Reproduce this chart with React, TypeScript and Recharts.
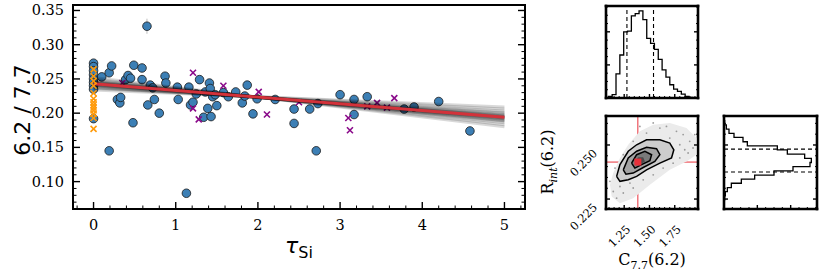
import React from 'react'
import { ComposedChart, Scatter, XAxis, YAxis, ErrorBar, ReferenceLine } from 'recharts'

const SERIF = '"DejaVu Serif", serif'
const SANS = '"DejaVu Sans", sans-serif'

// ---------- main panel: 6.2/7.7 against tau_Si ----------
// [tau_Si, ratio, error]
const pahPoints: [number, number, number][] = [
    [0, 0.273, 0.004], [0, 0.268, 0.004], [0, 0.262, 0.004], [0, 0.256, 0.004],
    [0, 0.25, 0.004], [0, 0.245, 0.004], [0, 0.24, 0.004], [0, 0.235, 0.004],
    [0, 0.192, 0.004], [0.1, 0.253, 0.004], [0.19, 0.259, 0.004], [0.22, 0.269, 0.004],
    [0.19, 0.145, 0.005], [0.29, 0.22, 0.004], [0.32, 0.215, 0.004], [0.33, 0.223, 0.004],
    [0.39, 0.249, 0.004], [0.42, 0.255, 0.004], [0.45, 0.251, 0.004], [0.48, 0.186, 0.004],
    [0.49, 0.27, 0.004], [0.59, 0.266, 0.004], [0.59, 0.249, 0.004], [0.65, 0.327, 0.011],
    [0.66, 0.212, 0.004], [0.69, 0.241, 0.004], [0.72, 0.237, 0.004], [0.74, 0.22, 0.004],
    [0.8, 0.2, 0.004], [0.87, 0.254, 0.004], [0.88, 0.244, 0.004], [1.02, 0.238, 0.004],
    [1.03, 0.22, 0.004], [1.13, 0.083, 0.004], [1.16, 0.238, 0.004], [1.18, 0.212, 0.004],
    [1.21, 0.216, 0.004], [1.25, 0.228, 0.004], [1.29, 0.249, 0.004], [1.34, 0.194, 0.004],
    [1.36, 0.231, 0.004], [1.39, 0.207, 0.004], [1.41, 0.244, 0.004], [1.42, 0.236, 0.004],
    [1.43, 0.195, 0.004], [1.45, 0.224, 0.004], [1.48, 0.227, 0.004], [1.5, 0.211, 0.004],
    [1.58, 0.23, 0.004], [1.64, 0.224, 0.004], [1.73, 0.231, 0.004], [1.81, 0.215, 0.004],
    [1.84, 0.225, 0.004], [1.87, 0.241, 0.004], [1.94, 0.199, 0.004], [1.99, 0.221, 0.004],
    [2.21, 0.22, 0.004], [2.44, 0.206, 0.004], [2.44, 0.185, 0.004], [2.63, 0.206, 0.004],
    [2.71, 0.145, 0.004], [2.73, 0.214, 0.004], [3.0, 0.227, 0.004], [3.17, 0.22, 0.004],
    [3.17, 0.198, 0.004], [3.33, 0.224, 0.004], [3.78, 0.206, 0.004], [3.9, 0.209, 0.004],
    [4.2, 0.217, 0.004], [4.58, 0.174, 0.004],
]
// orange crosses, all at tau_Si = 0
const noSilicateRatios = [0.264, 0.254, 0.247, 0.24, 0.229, 0.221, 0.216, 0.212, 0.208, 0.204, 0.199, 0.193, 0.177]
const purplePoints: [number, number][] = [
    [0.35, 0.244], [1.21, 0.259], [1.21, 0.207], [1.28, 0.191], [1.58, 0.24], [2.01, 0.231],
    [2.11, 0.198], [2.5, 0.216], [3.1, 0.193], [3.12, 0.175], [3.33, 0.21], [3.45, 0.215],
    [3.57, 0.208], [3.66, 0.222],
]
// posterior draws: value at tau = 0 and tau = 5
const drawStart = [0.252, 0.25, 0.248, 0.247, 0.246, 0.245, 0.245, 0.244, 0.244, 0.243, 0.243, 0.242, 0.242, 0.241, 0.241, 0.24, 0.239, 0.238, 0.237, 0.236, 0.234]
const drawEnd = [0.18, 0.183, 0.186, 0.188, 0.189, 0.19, 0.192, 0.191, 0.193, 0.193, 0.195, 0.194, 0.196, 0.196, 0.198, 0.197, 0.2, 0.201, 0.203, 0.206, 0.209]
const fitTau = [0, 5]
const fitRatio = [0.243, 0.194]

const tauMajor = [0, 1, 2, 3, 4, 5]
const ratioMajor = [0.1, 0.15, 0.2, 0.25, 0.3, 0.35]

// ---------- corner panels ----------
const cMajor = [1.25, 1.5, 1.75]
const rMajor = [0.225, 0.25]
const countMajor = [100, 200]
const cBest = 1.385
const rBest = 0.2421
const cQuantiles = [1.277, 1.54]
const rQuantiles = [0.2375, 0.2481]

const cHistStart = 1.093
const cHistWidth = 0.038
const cHistCounts = [5, 10, 73, 130, 200, 202, 248, 255, 263, 237, 180, 165, 147, 117, 85, 63, 40, 27, 20, 12, 5, 2]

const rHistEdges = [0.2612, 0.2593, 0.2573, 0.2554, 0.2535, 0.2515, 0.2496, 0.2477, 0.2458, 0.2438, 0.2419, 0.24, 0.238, 0.2361, 0.2342, 0.2323, 0.2303, 0.2284, 0.2265, 0.2246, 0.2226]
const rHistCounts = [2, 7, 15, 30, 57, 70, 160, 190, 242, 262, 258, 207, 150, 92, 52, 22, 10, 4, 2, 1]

const cloudOutline: [number, number][] = [
    [1.109, 0.2316], [1.142, 0.237], [1.208, 0.244], [1.29, 0.2501], [1.405, 0.2563], [1.537, 0.2594],
    [1.701, 0.2602], [1.866, 0.2578], [1.964, 0.2532], [1.964, 0.2455], [1.866, 0.2424], [1.701, 0.2385],
    [1.504, 0.2316], [1.339, 0.2254], [1.208, 0.2231], [1.126, 0.2262],
]
const cloudDots: [number, number][] = [
    [1.603, 0.2578], [1.668, 0.2586], [1.767, 0.2563], [1.833, 0.2548], [1.898, 0.2517], [1.931, 0.2486],
    [1.882, 0.2463], [1.8, 0.244], [1.734, 0.2416], [1.635, 0.2393], [1.537, 0.2362], [1.438, 0.2339],
    [1.339, 0.2301], [1.241, 0.2278], [1.175, 0.2254], [1.142, 0.2285], [1.109, 0.2332], [1.159, 0.2393],
    [1.241, 0.2455], [1.339, 0.2517], [1.471, 0.2555], [1.701, 0.2532], [1.8, 0.2501], [1.849, 0.2478],
    [1.405, 0.2378], [1.307, 0.2324], [1.208, 0.2308], [1.948, 0.2548], [1.537, 0.2602], [1.405, 0.2586],
]
const contourOuter: [number, number][] = [
    [1.175, 0.2355], [1.208, 0.2409], [1.29, 0.2471], [1.373, 0.2501], [1.471, 0.2524], [1.603, 0.2524],
    [1.701, 0.2509], [1.741, 0.2478], [1.718, 0.244], [1.603, 0.2416], [1.471, 0.2385], [1.373, 0.2355],
    [1.29, 0.2339], [1.208, 0.2332], [1.175, 0.2355],
]
const contourMid: [number, number][] = [
    [1.241, 0.2385], [1.29, 0.244], [1.373, 0.2471], [1.471, 0.2489], [1.57, 0.2483], [1.603, 0.2455],
    [1.553, 0.2424], [1.438, 0.2396], [1.339, 0.237], [1.267, 0.2365], [1.241, 0.2385],
]
const contourInner: [number, number][] = [
    [1.323, 0.2416], [1.373, 0.2455], [1.455, 0.2471], [1.521, 0.2455], [1.504, 0.2427], [1.422, 0.2409],
    [1.356, 0.2393], [1.323, 0.2416],
]
const contourCore: [number, number][] = [
    [1.356, 0.2424], [1.389, 0.2443], [1.438, 0.2443], [1.455, 0.2424], [1.405, 0.2409], [1.356, 0.2424],
]

const steps = (a: number, b: number, s: number) => {
    const out: number[] = []
    for (let v = a; v <= b + 1e-9; v += s) out.push(Math.round(v * 10000) / 10000)
    return out
}

const tauTicks = steps(-0.2, 5.2, 0.2)
const ratioTicks = steps(0.07, 0.35, 0.01)
const cTicks = steps(1.1, 1.95, 0.05)
const rTicks = steps(0.225, 0.26, 0.005)
const countTicks = steps(25, 275, 25)

const toXY = (pts: [number, number][]) => pts.map(([x, y]) => ({ x, y }))

type Side = 'bottom' | 'top' | 'left' | 'right'

function makeTick(side: Side, majors: number[], majorLen: number, minorLen: number, label?: (x: number, y: number, v: number) => React.ReactNode) {
    return (props: any) => {
        const { x, y, payload } = props
        const v = payload.value
        const isMajor = majors.some((m) => Math.abs(m - v) < 1e-6)
        const len = isMajor ? majorLen : minorLen
        const dx = side === 'left' ? len : side === 'right' ? -len : 0
        const dy = side === 'bottom' ? -len : side === 'top' ? len : 0
        return (
            <g>
                <line x1={x} y1={y} x2={x + dx} y2={y + dy} stroke="#000" strokeWidth={isMajor ? 1.4 : 1} />
                {isMajor && label ? label(x, y, v) : null}
            </g>
        )
    }
}

const noShape = () => <g />
const circleShape = (p: any) => <circle cx={p.cx} cy={p.cy} r={4.3} fill="#3c7fb5" stroke="#1a1a1a" strokeWidth={0.8} />
const crossShape = (color: string) => (p: any) => (
    <g stroke={color} strokeWidth={1.6}>
        <line x1={p.cx - 3} y1={p.cy - 3} x2={p.cx + 3} y2={p.cy + 3} />
        <line x1={p.cx - 3} y1={p.cy + 3} x2={p.cx + 3} y2={p.cy - 3} />
    </g>
)
const squareShape = (p: any) => <rect x={p.cx - 3.5} y={p.cy - 3.5} width={7} height={7} fill="#e8303a" />

const mainSpine = { stroke: '#000', strokeWidth: 2, strokeLinecap: 'square' as const }
const cornerSpine = { stroke: '#000', strokeWidth: 2.6, strokeLinecap: 'square' as const }
const axisCommon = { type: 'number' as const, interval: 0 as const, tickSize: 0, tickMargin: 0, tickLine: false, allowDataOverflow: true }

function MainPanel() {
    return (
        <ComposedChart width={540} height={277} margin={{ top: 4, right: 14, bottom: 0, left: 0 }}>
            <XAxis {...axisCommon} xAxisId="top" orientation="top" height={1} domain={[-0.25, 5.25]} ticks={tauTicks} axisLine={mainSpine} tick={makeTick('top', tauMajor, 7, 3.5)} />
            <XAxis
                {...axisCommon}
                dataKey="x"
                height={68}
                domain={[-0.25, 5.25]}
                ticks={tauTicks}
                axisLine={mainSpine}
                tick={makeTick('bottom', tauMajor, 7, 3.5, (x, y, v) => (
                    <text x={x} y={y + 21} textAnchor="middle" fontSize={14.5} fontFamily={SERIF} fill="#000">{v}</text>
                ))}
                label={{
                    value: 'tau',
                    content: () => (
                        <text x={285} y={253} fontFamily={SANS} fill="#000">
                            <tspan fontSize={22} fontStyle="italic">τ</tspan>
                            <tspan fontSize={16} dy={5}>Si</tspan>
                        </text>
                    ),
                }}
            />
            <YAxis
                {...axisCommon}
                dataKey="y"
                width={73}
                domain={[0.06, 0.358]}
                ticks={ratioTicks}
                axisLine={mainSpine}
                tick={makeTick('left', ratioMajor, 7, 3.5, (x, y, v) => (
                    <text x={x - 9} y={y + 5} textAnchor="end" fontSize={14.5} fontFamily={SERIF} fill="#000">{v.toFixed(2)}</text>
                ))}
                label={{
                    value: 'ratio',
                    content: () => (
                        <text transform="translate(30,110) rotate(-90)" textAnchor="middle" fontSize={22} fontFamily={SANS} fill="#000">6.2 / 7.7</text>
                    ),
                }}
            />
            <YAxis {...axisCommon} yAxisId="right" orientation="right" width={1} domain={[0.06, 0.358]} ticks={ratioTicks} axisLine={mainSpine} tick={makeTick('right', ratioMajor, 7, 3.5)} />

            <Scatter data={pahPoints.map(([x, y, e]) => ({ x, y, e }))} shape={circleShape} isAnimationActive={false}>
                <ErrorBar dataKey="e" direction="y" width={0} stroke="#bdbdbd" strokeWidth={1} />
            </Scatter>
            <Scatter data={toXY(purplePoints)} shape={crossShape('#8a0a8a')} isAnimationActive={false} />
            {drawStart.map((s, i) => (
                <Scatter
                    key={`draw-${i}`}
                    data={[{ x: fitTau[0], y: s }, { x: fitTau[1], y: drawEnd[i] }]}
                    shape={noShape}
                    line={{ stroke: '#000', strokeWidth: 3, strokeOpacity: 0.15 }}
                    isAnimationActive={false}
                />
            ))}
            <Scatter
                data={fitTau.map((x, i) => ({ x, y: fitRatio[i] }))}
                shape={noShape}
                line={{ stroke: '#d3323a', strokeWidth: 3 }}
                isAnimationActive={false}
            />
            <Scatter data={noSilicateRatios.map((y) => ({ x: 0, y }))} shape={crossShape('#ff9a0a')} isAnimationActive={false} />
        </ComposedChart>
    )
}

function TopHist() {
    const pts: { x: number; y: number }[] = []
    cHistCounts.forEach((c, i) => {
        const lo = cHistStart + i * cHistWidth
        if (i === 0) pts.push({ x: lo, y: 0 })
        pts.push({ x: lo, y: c }, { x: lo + cHistWidth, y: c })
        if (i === cHistCounts.length - 1) pts.push({ x: lo + cHistWidth, y: 0 })
    })
    return (
        <ComposedChart width={112} height={108} margin={{ top: 5, right: 9, bottom: 9, left: 9 }}>
            <XAxis {...axisCommon} xAxisId="top" orientation="top" height={1} domain={[1.07, 1.98]} ticks={cTicks} axisLine={cornerSpine} tick={makeTick('top', cMajor, 4, 2)} />
            <XAxis {...axisCommon} dataKey="x" height={1} domain={[1.07, 1.98]} ticks={cTicks} axisLine={cornerSpine} tick={makeTick('bottom', cMajor, 4, 2)} />
            <YAxis {...axisCommon} dataKey="y" width={1} domain={[0, 278]} ticks={countTicks} axisLine={cornerSpine} tick={makeTick('left', countMajor, 4, 2)} />
            <YAxis {...axisCommon} yAxisId="right" orientation="right" width={1} domain={[0, 278]} ticks={countTicks} axisLine={cornerSpine} tick={makeTick('right', countMajor, 4, 2)} />
            {cQuantiles.map((q) => (
                <ReferenceLine key={q} x={q} stroke="#000" strokeWidth={1.1} strokeDasharray="4 3" />
            ))}
            <Scatter data={pts} shape={noShape} line={{ stroke: '#000', strokeWidth: 1.3 }} isAnimationActive={false} />
        </ComposedChart>
    )
}

function RightHist() {
    const pts: { x: number; y: number }[] = []
    rHistCounts.forEach((c, i) => {
        const hi = rHistEdges[i]
        const lo = rHistEdges[i + 1]
        if (i === 0) pts.push({ x: 0, y: hi })
        pts.push({ x: c, y: hi }, { x: c, y: lo })
        if (i === rHistCounts.length - 1) pts.push({ x: 0, y: lo })
    })
    return (
        <ComposedChart width={113} height={113} margin={{ top: 9, right: 9, bottom: 9, left: 9 }}>
            <XAxis {...axisCommon} xAxisId="top" orientation="top" height={1} domain={[0, 279]} ticks={countTicks} axisLine={cornerSpine} tick={makeTick('top', countMajor, 4, 2)} />
            <XAxis {...axisCommon} dataKey="x" height={1} domain={[0, 279]} ticks={countTicks} axisLine={cornerSpine} tick={makeTick('bottom', countMajor, 4, 2)} />
            <YAxis {...axisCommon} dataKey="y" width={1} domain={[0.2204, 0.2634]} ticks={rTicks} axisLine={cornerSpine} tick={makeTick('left', rMajor, 4, 2)} />
            <YAxis {...axisCommon} yAxisId="right" orientation="right" width={1} domain={[0.2204, 0.2634]} ticks={rTicks} axisLine={cornerSpine} tick={makeTick('right', rMajor, 4, 2)} />
            {rQuantiles.map((q) => (
                <ReferenceLine key={q} y={q} stroke="#000" strokeWidth={1.1} strokeDasharray="4 3" />
            ))}
            <Scatter data={pts} shape={noShape} line={{ stroke: '#000', strokeWidth: 1.3 }} isAnimationActive={false} />
        </ComposedChart>
    )
}

function Joint() {
    const levels: { pts: [number, number][]; fill: string; stroke: string }[] = [
        { pts: contourOuter, fill: '#cdcdcd', stroke: '#000' },
        { pts: contourMid, fill: '#a3a3a3', stroke: '#000' },
        { pts: contourInner, fill: '#7a7a7a', stroke: '#000' },
        { pts: contourCore, fill: '#4c4c4c', stroke: 'none' },
    ]
    return (
        <ComposedChart width={180} height={177} margin={{ top: 15, right: 11, bottom: 0, left: 0 }}>
            <XAxis {...axisCommon} xAxisId="top" orientation="top" height={1} domain={[1.07, 1.98]} ticks={cTicks} axisLine={cornerSpine} tick={makeTick('top', cMajor, 4, 2)} />
            <XAxis
                {...axisCommon}
                dataKey="x"
                height={68}
                domain={[1.07, 1.98]}
                ticks={cTicks}
                axisLine={cornerSpine}
                tick={makeTick('bottom', cMajor, 4, 2, (x, y, v) => (
                    <text x={x + 7} y={y + 21} textAnchor="end" fontSize={11.5} fontFamily={SERIF} fill="#000" transform={`rotate(-45 ${x + 7} ${y + 21})`}>{v.toFixed(2)}</text>
                ))}
                label={{
                    value: 'C',
                    content: () => (
                        <text x={122} y={165} textAnchor="middle" fontFamily={SERIF} fontSize={16} fill="#000">
                            C<tspan fontSize={11} dy={4}>7.7</tspan><tspan dy={-4}>(6.2)</tspan>
                        </text>
                    ),
                }}
            />
            <YAxis
                {...axisCommon}
                dataKey="y"
                width={76}
                domain={[0.2204, 0.2634]}
                ticks={rTicks}
                axisLine={cornerSpine}
                tick={makeTick('left', rMajor, 4, 2, (x, y, v) => (
                    <text x={x - 8} y={y + 9} textAnchor="end" fontSize={11.5} fontFamily={SERIF} fill="#000" transform={`rotate(-45 ${x - 8} ${y + 9})`}>{v.toFixed(3)}</text>
                ))}
                label={{
                    value: 'R',
                    content: () => (
                        <text transform="translate(23,62) rotate(-90)" textAnchor="middle" fontFamily={SERIF} fontSize={16} fill="#000">
                            R<tspan fontSize={11} fontStyle="italic" dy={4}>int</tspan><tspan dy={-4}>(6.2)</tspan>
                        </text>
                    ),
                }}
            />
            <YAxis {...axisCommon} yAxisId="right" orientation="right" width={1} domain={[0.2204, 0.2634]} ticks={rTicks} axisLine={cornerSpine} tick={makeTick('right', rMajor, 4, 2)} />

            <Scatter data={toXY(cloudOutline)} shape={noShape} line={{ stroke: 'none', fill: '#ebebeb' }} isAnimationActive={false} />
            <Scatter data={toXY(cloudDots)} shape={(p: any) => <circle cx={p.cx} cy={p.cy} r={0.9} fill="#9a9a9a" />} isAnimationActive={false} />
            {levels.map((lv, i) => (
                <Scatter key={`lvl-${i}`} data={toXY(lv.pts)} shape={noShape} line={{ stroke: lv.stroke, strokeWidth: 1.5, fill: lv.fill }} isAnimationActive={false} />
            ))}
            <ReferenceLine x={cBest} stroke="#e8303a" strokeWidth={1} />
            <ReferenceLine y={rBest} stroke="#e8303a" strokeWidth={1} />
            <Scatter data={[{ x: cBest, y: rBest }]} shape={squareShape} isAnimationActive={false} />
        </ComposedChart>
    )
}

export default function App() {
    return (
        <div style={{ position: 'absolute', left: 0, top: 0, width: 830, height: 277, background: '#fff', overflow: 'hidden' }}>
            <div style={{ position: 'absolute', left: 0, top: 0 }}><MainPanel /></div>
            <div style={{ position: 'absolute', left: 596, top: 0 }}><TopHist /></div>
            <div style={{ position: 'absolute', left: 530, top: 100 }}><Joint /></div>
            <div style={{ position: 'absolute', left: 714, top: 106 }}><RightHist /></div>
        </div>
    )
}
